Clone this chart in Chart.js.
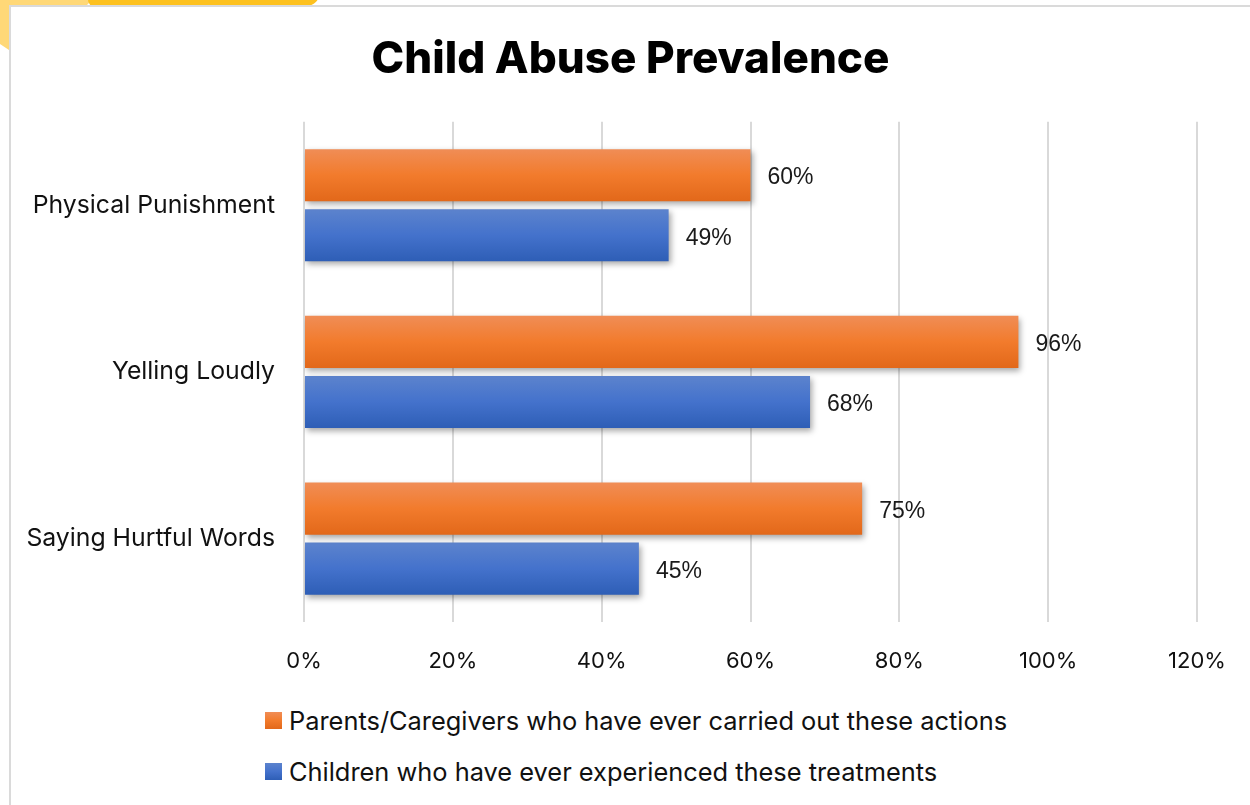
<!DOCTYPE html>
<html>
<head>
<meta charset="utf-8">
<title>Child Abuse Prevalence</title>
<script src="https://cdn.jsdelivr.net/npm/chart.js@4.4.1/dist/chart.umd.min.js"></script>
<style>
  html, body { margin: 0; padding: 0; background: #fff; overflow: hidden; }
  body { width: 1250px; height: 805px; position: relative; font-family: Inter, "Open Sans", sans-serif; }
  .tab-pale {
    position: absolute; left: 0; top: 0; width: 100px; height: 60px; background: #ffd877;
    clip-path: polygon(0 0, 92px 0, 86px 6px, 12px 52px, 0 44px);
  }
  .tab-gold {
    position: absolute; left: 88px; top: -20px; width: 232px; height: 26px;
    background: #fdc11f; border-radius: 0 0 14px 6px;
  }
  .card {
    position: absolute; left: 9px; top: 5px; width: 1300px; height: 900px;
    background: #fff; border: 2px solid #dadada; box-sizing: border-box;
  }
  #abuseChart { position: absolute; left: 11px; top: 7px; }
  #legend { position: absolute; left: 265px; top: 695px; }
  .legend-row { display: flex; align-items: center; height: 51px; }
  .legend-box { width: 17px; height: 17px; margin-right: 7px; }
  .legend-text { font-size: 25.4px; color: #111; white-space: nowrap; }
</style>
</head>
<body>
<div class="tab-pale"></div>
<div class="tab-gold"></div>
<div class="card"></div>
<canvas id="abuseChart" width="1239" height="680"></canvas>
<div id="legend"></div>
<script>
// chart data
const categories = ['Physical Punishment', 'Yelling Loudly', 'Saying Hurtful Words'];
const parentsValues = [60, 96, 75];
const childrenValues = [49, 68, 45];
const seriesNames = [
  'Parents/Caregivers who have ever carried out these actions',
  'Children who have ever experienced these treatments'
];
const xMin = 0;
const xMax = 120;
const xStep = 20;

// top / middle / bottom shades of each bar
const orangeShades = ['#f08d56', '#f27b2c', '#e2681a'];
const blueShades = ['#5c83cd', '#4472cc', '#2e5eb6'];

const CAT_PCT = 0.72;
const BAR_PCT = 0.867;
const FONT = 'Inter, "Open Sans", sans-serif';

// vertical gradient fitted to each bar's own top and bottom
const barGradient = (shades) => (context) => {
  const chart = context.chart;
  const yScale = chart.scales.y;
  if (!chart.chartArea || !yScale || context.dataIndex === undefined) return shades[1];
  const step = yScale.getPixelForValue(1) - yScale.getPixelForValue(0);
  const group = step * CAT_PCT;
  const slot = group / 2;
  const mid = yScale.getPixelForValue(context.dataIndex) - group / 2 + slot * (context.datasetIndex + 0.5);
  const half = slot * BAR_PCT / 2;
  const g = chart.ctx.createLinearGradient(0, mid - half, 0, mid + half);
  g.addColorStop(0, shades[0]);
  g.addColorStop(0.5, shades[1]);
  g.addColorStop(1, shades[2]);
  return g;
};

// soft drop shadow under the bars
const barShadow = {
  id: 'barShadow',
  beforeDatasetDraw(chart) {
    const c = chart.ctx;
    c.save();
    c.shadowColor = 'rgba(0, 0, 0, 0.35)';
    c.shadowBlur = 6;
    c.shadowOffsetX = 2;
    c.shadowOffsetY = 3;
  },
  afterDatasetDraw(chart) {
    chart.ctx.restore();
  }
};

// percentage written just past the end of every bar
const valueLabels = {
  id: 'valueLabels',
  afterDatasetsDraw(chart) {
    const c = chart.ctx;
    c.save();
    c.font = '23px "Liberation Sans", Arial, sans-serif';
    c.fillStyle = '#1a1a1a';
    c.textAlign = 'left';
    c.textBaseline = 'middle';
    chart.data.datasets.forEach((ds, i) => {
      chart.getDatasetMeta(i).data.forEach((bar, j) => {
        c.fillText(ds.data[j] + '%', bar.x + 17, bar.y + 3);
      });
    });
    c.restore();
  }
};

const ctx = document.getElementById('abuseChart').getContext('2d');
const chart = new Chart(ctx, {
  type: 'bar',
  data: {
    labels: categories,
    datasets: [
      {
        label: seriesNames[0],
        data: parentsValues,
        backgroundColor: barGradient(orangeShades),
        categoryPercentage: CAT_PCT,
        barPercentage: BAR_PCT
      },
      {
        label: seriesNames[1],
        data: childrenValues,
        backgroundColor: barGradient(blueShades),
        categoryPercentage: CAT_PCT,
        barPercentage: BAR_PCT
      }
    ]
  },
  options: {
    indexAxis: 'y',
    responsive: false,
    animation: false,
    layout: { padding: 0 },
    plugins: {
      legend: { display: false },
      tooltip: { enabled: false },
      title: {
        display: true,
        text: 'Child Abuse Prevalence',
        color: '#000',
        font: { family: FONT, size: 44, weight: '800' },
        padding: { top: 26, bottom: 36 }
      }
    },
    scales: {
      x: {
        min: xMin,
        max: xMax,
        grid: { color: '#d9d9d9', lineWidth: 2, drawTicks: false },
        border: { display: false },
        ticks: {
          stepSize: xStep,
          padding: 26,
          color: '#111',
          font: { family: FONT, size: 22 },
          callback: (v) => v + '%'
        },
        afterFit: (scale) => {
          scale.height = 65;
          // keep the plot clear of the right edge while the title stays centred on the canvas
          scale.paddingRight = 53;
        }
      },
      y: {
        grid: { display: false, drawTicks: false },
        border: { display: false },
        ticks: {
          padding: 29,
          color: '#111',
          font: { family: FONT, size: 24.8 }
        },
        afterFit: (scale) => { scale.width = 293; }
      }
    }
  },
  plugins: [barShadow, valueLabels]
});

// legend listed under the axis, one series per row
const legendEl = document.getElementById('legend');
[orangeShades, blueShades].forEach((shades, i) => {
  const row = document.createElement('div');
  row.className = 'legend-row';
  const box = document.createElement('span');
  box.className = 'legend-box';
  box.style.background = `linear-gradient(${shades[0]}, ${shades[1]}, ${shades[2]})`;
  const text = document.createElement('span');
  text.className = 'legend-text';
  text.textContent = chart.data.datasets[i].label;
  row.appendChild(box);
  row.appendChild(text);
  legendEl.appendChild(row);
});
</script>
</body>
</html>
